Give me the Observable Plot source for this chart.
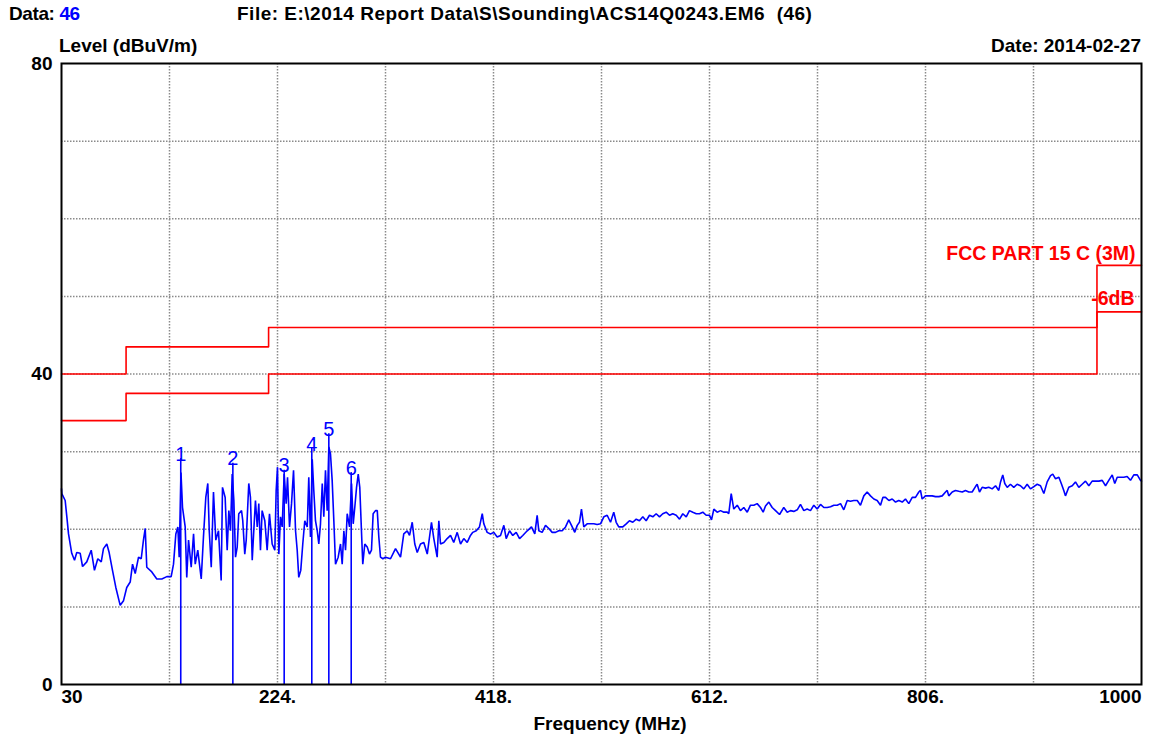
<!DOCTYPE html>
<html>
<head>
<meta charset="utf-8">
<script src="https://cdn.jsdelivr.net/npm/d3@7"></script>
<script src="https://cdn.jsdelivr.net/npm/@observablehq/plot@0.6"></script>
<style>
  html, body { margin: 0; padding: 0; background: #fff; }
  #wrap { position: relative; width: 1163px; height: 740px; overflow: hidden; font-family: "Liberation Sans", Arial, sans-serif; color: #000; }
  .t { position: absolute; font-size: 19px; line-height: 20px; white-space: pre; font-weight: bold; }
  svg { position: absolute; left: 0; top: 0; }
</style>
</head>
<body>
<div id="wrap">
  <div class="t" style="left:9px; top:4px; letter-spacing:-0.4px;">Data: <span style="color:#0000ff">46</span></div>
  <div class="t" style="left:237px; top:4px; letter-spacing:0.5px;">File: E:\2014 Report Data\S\Sounding\ACS14Q0243.EM6  (46)</div>
  <div class="t" style="left:59px; top:36px;">Level (dBuV/m)</div>
  <div class="t" style="right:22px; top:36px;">Date: 2014-02-27</div>
  <div class="t" style="left:0; width:1220px; text-align:center; top:714px;">Frequency (MHz)</div>
</div>
<script>
// Measured trace (frequency in MHz, level in dBuV/m)
const traceFreq = [
  30.0,30.3,33.3,34.8,36.3,39.2,41.7,43.7,46.8,48.9,52.7,56.7,59.6,62.6,65.7,67.7,70.7,72.8,75.8,78.8,
  82.7,85.7,88.6,91.7,93.8,96.2,99.2,101.6,103.6,105.2,106.6,111.1,115.6,120.1,124.6,128.5,130.6,132.7,134.5,135.7,
  137.3,138.7,141.1,142.5,144.1,146.5,148.6,150.1,152.4,155.5,157.5,159.6,161.4,162.7,164.5,166.5,168.6,171.0,173.4,174.6,
  177.0,178.8,180.3,181.8,183.3,184.8,186.3,187.8,189.2,191.7,192.8,194.6,195.9,198.2,199.7,201.3,202.7,204.2,205.8,207.2,
  208.7,210.2,212.6,214.7,216.8,219.2,221.6,222.8,224.0,225.2,226.7,228.2,230.0,231.8,233.0,234.8,236.6,238.4,240.2,241.7,
  243.1,244.9,246.7,248.5,250.7,252.1,253.6,255.2,256.6,258.1,259.7,261.1,262.6,264.2,265.6,267.1,268.6,270.1,271.6,273.1,
  274.6,276.1,278.5,280.6,282.1,283.6,285.1,286.6,288.7,290.5,292.0,293.4,295.0,296.5,297.9,299.4,300.6,302.4,304.6,306.6,
  308.4,309.9,312.0,313.6,315.0,316.5,318.6,321.0,325.5,330.0,334.5,337.4,340.5,342.6,345.0,347.3,349.5,352.4,355.4,358.5,
  362.3,364.4,367.4,368.9,370.4,373.4,376.4,379.4,382.3,385.4,388.4,391.3,394.4,397.3,399.4,402.5,405.4,407.9,409.3,412.3,
  415.3,418.3,421.3,424.3,427.3,429.4,432.4,435.3,438.4,441.4,444.3,448.3,452.1,455.1,457.2,458.7,461.7,464.7,467.7,470.7,
  473.7,476.6,479.7,482.7,485.6,488.7,491.0,493.2,495.2,497.0,499.1,502.1,505.1,508.1,511.1,514.1,517.1,520.1,523.1,526.0,
  528.2,530.5,534.1,537.2,540.1,543.1,546.2,549.1,552.1,555.1,558.1,561.1,564.1,567.1,570.0,573.1,576.1,579.0,582.1,585.1,
  588.0,591.1,594.0,597.0,600.1,603.0,606.0,609.0,612.0,613.8,615.9,618.9,621.9,624.9,627.9,629.3,631.5,633.8,636.9,639.8,
  642.8,645.9,648.8,651.8,654.8,657.8,660.2,662.3,665.3,668.3,671.3,674.9,678.7,681.8,684.7,687.7,690.8,693.7,696.7,699.7,
  702.7,705.7,708.7,711.7,714.7,717.7,720.7,723.7,726.7,729.7,732.6,735.7,738.6,741.6,744.7,747.6,750.6,753.6,756.6,759.6,
  762.6,765.6,767.7,770.1,773.1,776.1,779.1,782.0,785.1,788.0,791.0,794.1,797.0,800.0,801.5,803.0,806.0,809.0,812.0,815.0,
  818.0,821.0,824.0,825.5,826.9,830.0,832.9,835.9,839.0,841.9,844.9,847.9,850.9,852.4,854.5,856.9,859.9,862.8,865.9,868.9,
  871.8,873.4,875.4,877.2,879.4,882.3,885.3,888.3,891.3,894.3,897.3,900.3,903.3,906.3,909.3,912.3,915.3,918.3,920.3,922.8,
  925.8,928.2,930.2,931.7,934.7,937.8,940.7,943.7,946.7,949.7,952.7,955.7,958.7,961.7,964.7,967.7,970.6,973.7,976.0,978.2,
  981.1,984.1,987.1,990.1,993.1,996.2,999.1,1000.0
];
const traceLevel = [
  25.2,24.6,23.7,21.6,19.4,16.9,16.0,17.0,16.9,15.2,15.8,17.3,14.7,16.2,15.8,17.5,18.1,17.0,14.7,12.5,
  10.2,10.8,12.5,13.2,15.5,14.3,16.4,16.2,18.6,20.1,15.1,14.5,13.6,13.6,13.9,13.9,15.5,19.4,20.3,16.4,
  27.3,22.8,20.3,13.8,18.6,15.1,19.4,15.5,17.3,13.6,19.0,24.1,25.9,19.8,15.1,24.8,18.6,19.8,13.4,25.4,
  24.1,17.3,22.4,19.8,27.1,23.7,16.4,17.7,22.0,22.4,21.1,16.8,18.6,25.9,24.1,16.0,19.8,23.7,20.3,23.3,
  17.3,22.4,21.1,17.3,22.0,18.1,17.3,25.0,28.0,16.8,21.6,20.3,27.1,23.3,26.7,20.3,23.3,27.6,19.8,17.3,
  13.8,14.7,18.1,21.1,20.3,26.7,19.0,29.0,25.0,21.1,19.8,18.1,20.7,25.9,21.6,27.6,22.4,30.6,29.7,26.3,
  21.1,15.5,16.4,18.1,15.5,19.8,17.3,22.0,20.3,25.9,20.7,22.8,25.4,27.1,25.4,19.8,15.5,18.1,17.7,16.8,
  17.3,22.0,22.4,22.4,19.0,16.4,16.2,16.4,16.2,17.5,16.4,19.4,19.8,19.2,20.9,18.1,17.0,18.1,18.3,16.8,
  20.9,18.8,16.4,21.1,18.1,18.3,18.8,19.2,18.3,19.6,18.1,18.8,18.3,19.2,19.6,19.8,20.3,22.0,20.7,19.6,
  19.4,19.6,19.0,19.2,20.5,18.8,19.8,19.2,19.6,18.8,19.2,19.8,20.3,19.4,21.8,19.8,19.6,20.5,20.1,19.6,
  19.6,19.8,19.8,20.3,21.2,20.3,19.6,20.5,20.9,22.6,20.3,20.7,20.7,20.7,20.6,20.7,21.6,21.8,20.9,22.2,
  20.9,20.3,20.3,20.7,21.1,20.9,21.3,21.1,21.6,21.1,21.8,21.6,22.0,21.6,22.0,22.2,21.8,22.0,21.8,21.3,
  22.0,21.6,22.4,22.2,22.0,22.0,22.2,21.8,21.8,21.2,22.6,22.2,22.4,22.2,22.2,22.0,24.6,22.6,23.1,22.4,
  22.8,22.2,23.1,23.1,23.3,22.8,22.2,23.0,23.5,22.8,22.4,21.9,22.8,22.2,22.4,22.3,22.5,23.2,22.4,22.6,
  22.4,23.1,22.6,23.2,22.8,22.8,22.9,23.1,23.1,23.3,22.5,23.7,23.6,23.7,23.7,23.1,24.3,24.8,24.3,23.9,
  23.7,23.1,24.1,24.1,23.7,23.9,23.5,23.7,23.5,23.9,23.3,24.1,24.1,24.8,25.0,23.9,24.3,24.3,24.3,24.2,
  24.2,24.3,24.8,25.0,24.3,24.8,25.0,24.9,24.8,25.0,24.8,24.8,25.5,25.8,24.8,25.4,25.3,25.4,25.2,25.6,
  25.0,26.1,27.0,25.9,25.4,25.8,25.4,25.8,25.6,25.2,25.8,25.2,25.5,25.8,25.6,24.6,26.1,26.9,27.1,26.5,
  26.7,25.8,25.0,24.3,25.4,25.6,26.1,25.4,25.8,26.2,25.6,26.2,26.2,26.2,26.3,25.6,26.3,27.0,25.9,26.7,
  26.7,26.7,26.8,26.3,27.0,27.0,26.3,26.2
];

// Peak markers
const markerId = ["1","2","3","4","5","6"];
const markerFreq = [137.1, 183.9, 230.0, 254.8, 270.1, 290.2];
const markerLevel = [29.1, 28.5, 27.6, 30.4, 32.3, 27.3];

// FCC Part 15 C (3 m) limit and the -6 dB line
const limitFreq = [30, 88, 216, 960, 1000];
const limitLevel = [40, 43.5, 46, 54, 54];
const marginLevel = [34, 37.5, 40, 48, 48];

// Axis / grid ticks
const xGridTicks = [127, 224, 321, 418, 515, 612, 709, 806, 903];
const xLabelTicks = [224, 418, 612, 806];
const yGridTicks = [10, 20, 30, 40, 50, 60, 70];
const yLabelTicks = [0, 40, 80];

const trace = traceFreq.map((f, i) => ({f, v: traceLevel[i]}));
const markers = markerId.map((id, i) => ({id, f: markerFreq[i], v: markerLevel[i]}));
const limit = limitFreq.map((f, i) => ({f, v: limitLevel[i]}));
const margin = limitFreq.map((f, i) => ({f, v: marginLevel[i]}));

const gridStyle = {stroke: "#8a8a8a", strokeOpacity: 1, strokeWidth: 1.5, strokeDasharray: "1.5,1.5"};
const tickFont = {fontSize: 19, fontWeight: "bold", fill: "#000"};

const chart = Plot.plot({
  width: 1163,
  height: 740,
  marginTop: 63,
  marginBottom: 56,
  marginLeft: 61,
  marginRight: 22,
  style: {fontFamily: "'Liberation Sans', Arial, sans-serif", background: "transparent", overflow: "visible"},
  x: {domain: [30, 1000], label: null},
  y: {domain: [0, 80], label: null},
  marks: [
    Plot.gridX(xGridTicks, gridStyle),
    Plot.gridY(yGridTicks, gridStyle),
    Plot.axisY(yLabelTicks, {tickSize: 0, tickPadding: 9, ...tickFont, label: null}),
    Plot.axisX(xLabelTicks, {tickSize: 0, tickPadding: 5, tickFormat: d => d + ".", ...tickFont, label: null}),
    Plot.axisX([30], {tickSize: 0, tickPadding: 5, textAnchor: "start", tickFormat: d => String(d), ...tickFont, label: null}),
    Plot.axisX([1000], {tickSize: 0, tickPadding: 5, textAnchor: "end", tickFormat: d => String(d), ...tickFont, label: null}),
    Plot.line(limit, {x: "f", y: "v", curve: "step-after", stroke: "#ff0000", strokeWidth: 1.6}),
    Plot.line(margin, {x: "f", y: "v", curve: "step-after", stroke: "#ff0000", strokeWidth: 1.6}),
    Plot.text([limit[limit.length - 1]], {x: "f", y: "v", text: () => "FCC PART 15 C (3M)", textAnchor: "end", dx: -6, dy: -12, fill: "#ff0000", fontSize: 19.5, fontWeight: "bold"}),
    Plot.text([margin[margin.length - 1]], {x: "f", y: "v", text: () => "-6dB", textAnchor: "end", dx: -7, dy: -13, fill: "#ff0000", fontSize: 19.5, fontWeight: "bold"}),
    Plot.line(trace, {x: "f", y: "v", stroke: "#0000ff", strokeWidth: 1.6, strokeLinejoin: "miter"}),
    Plot.ruleX(markers, {x: "f", y1: 0, y2: "v", stroke: "#0000ff", strokeWidth: 1.6}),
    Plot.text(markers, {x: "f", y: "v", text: "id", lineAnchor: "bottom", dy: 2, fill: "#0000ff", fontSize: 20, fontWeight: "normal"}),
    Plot.frame({stroke: "#000", strokeWidth: 2})
  ]
});
document.getElementById("wrap").prepend(chart);
</script>
</body>
</html>
